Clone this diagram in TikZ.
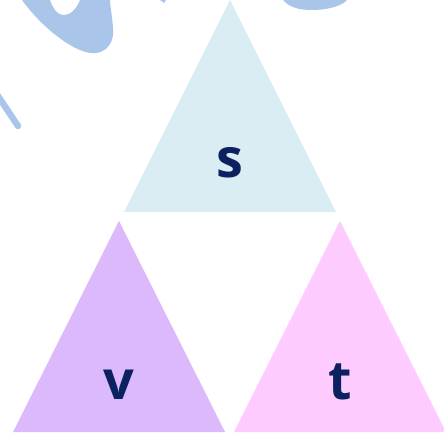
\documentclass[tikz,border=0pt]{standalone}
\usepackage{fontspec}
\setmainfont{Open Sans}
\definecolor{topfill}{HTML}{DAEDF2}
\definecolor{leftfill}{HTML}{DBB9FB}
\definecolor{rightfill}{HTML}{FDCBFD}
\definecolor{labelcol}{HTML}{0C2160}
\definecolor{decoblue}{HTML}{A9C5EA}
\tikzset{
  tri/.style={draw=none},
  lbl/.style={text=labelcol, font=\fontsize{54}{60}\selectfont\bfseries, inner sep=0pt, anchor=base},
  deco/.style={fill=decoblue, draw=none}
}
\begin{document}
\begin{tikzpicture}[x=1pt,y=-1pt]
\useasboundingbox (0,0) rectangle (444,435);
% decorations
\path[deco] (22,0) .. controls (40,25) and (70,50) .. (90,53) .. controls (108,55) and (115,40) .. (113,27) .. controls (112,15) and (110,5) .. (110,0) -- (80,0) .. controls (76,10) and (70,15) .. (64,15) .. controls (56,15) and (52,6) .. (50,0) -- cycle;
\draw[decoblue, line width=6.5pt, line cap=round] (-4,93) -- (18,126);
\path[deco] (283,0) .. controls (290,8) and (300,10) .. (312,10) .. controls (330,10) and (343,5) .. (347,0) -- cycle;
\path[deco] (160,0) -- (166,0) -- (164,3) -- cycle;
% triangles
\path[fill=topfill, tri] (230,0) -- (336,212) -- (124,212) -- cycle;
\path[fill=leftfill, tri] (119,221) -- (225,432) -- (13,432) -- cycle;
\path[fill=rightfill, tri] (340,221) -- (446,432) -- (234,432) -- cycle;
\node[lbl] (s) at (230,178) {s};
\node[lbl] (v) at (119,399) {v};
\node[lbl] (t) at (340,399) {t};
\end{tikzpicture}
\end{document}
